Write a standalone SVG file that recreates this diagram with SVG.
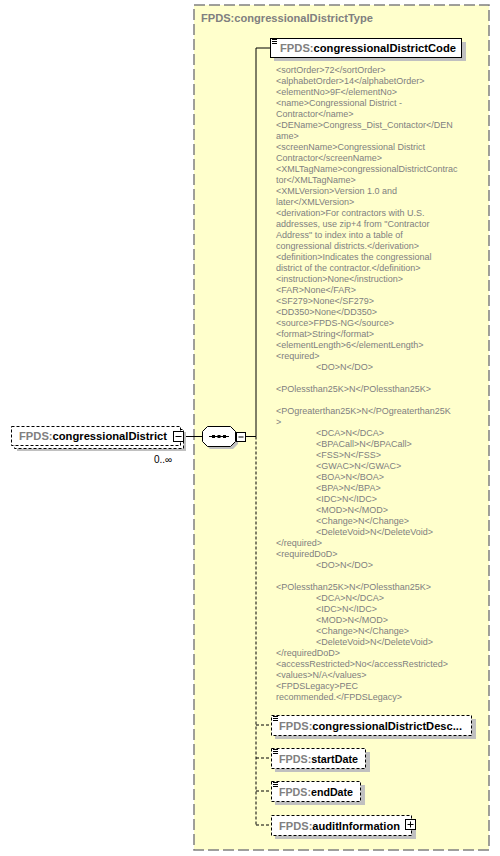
<svg xmlns="http://www.w3.org/2000/svg" width="500" height="856" viewBox="0 0 500 856">
<style>
.lbl{font-family:"Liberation Sans",Arial,sans-serif;font-size:11px;font-weight:bold;fill:#000}
.pfx{fill:#808080}
.ann{font-family:"Liberation Sans",Arial,sans-serif;font-size:9px;fill:#808080}
.box{fill:#fff;stroke:#000;stroke-width:1}
.dbox{fill:#fff;stroke:#000;stroke-width:1;stroke-dasharray:3,2}
.shadow{fill:#c0c0c0}
.ln{stroke:#000;stroke-width:1;fill:none}
.dln{stroke:#000;stroke-width:1;fill:none;stroke-dasharray:3,2}
.icon{stroke:#000;stroke-width:1}
</style>
<defs>
<g id="doc"><rect x="0" y="0" width="7" height="6" fill="#fff"/><line class="icon" x1="1" y1="0.5" x2="6" y2="0.5"/><line class="icon" x1="1" y1="2.5" x2="6" y2="2.5"/><line class="icon" x1="1" y1="4.5" x2="6" y2="4.5"/></g>
</defs>
<g id="complexType">
<rect x="194" y="5" width="295" height="845" fill="#ffffcc" stroke="#808080" stroke-width="1.5" stroke-dasharray="11,4"/>
<text class="lbl pfx" x="201" y="22" textLength="172" lengthAdjust="spacingAndGlyphs">FPDS:congressionalDistrictType</text>
</g>
<g id="connectors">
<line class="ln" x1="184" y1="436.5" x2="202" y2="436.5"/>
<line class="ln" x1="245" y1="436.5" x2="256" y2="436.5"/>
<line class="ln" x1="256" y1="48" x2="256" y2="436.5"/>
<line class="ln" x1="256" y1="48" x2="270" y2="48"/>
<line class="dln" x1="256" y1="436.5" x2="256" y2="825"/>
<line class="dln" x1="256" y1="725" x2="271" y2="725"/>
<line class="dln" x1="256" y1="758" x2="271" y2="758"/>
<line class="dln" x1="256" y1="791" x2="271" y2="791"/>
<line class="dln" x1="256" y1="825" x2="271" y2="825"/>
</g>
<g id="congressionalDistrict">
<rect class="shadow" x="17" y="432" width="169" height="19"/>
<rect class="dbox" x="14.5" y="429.5" width="169" height="19"/>
<rect class="dbox" x="11.5" y="426.5" width="169" height="19"/>
<text class="lbl" x="19" y="440" textLength="148" lengthAdjust="spacingAndGlyphs"><tspan class="pfx">FPDS:</tspan>congressionalDistrict</text>
<rect class="box" x="173.5" y="431.5" width="10" height="10"/>
<line class="ln" x1="175.5" y1="436.5" x2="181.5" y2="436.5"/>
<text x="154" y="463" font-family="'Liberation Sans',Arial,sans-serif" font-size="10" fill="#000">0..∞</text>
</g>
<g id="sequence">
<polygon class="shadow" points="210,429 233,429 238,434 238,444 233,449 210,449 205,444 205,434"/>
<polygon points="207.5,426.5 230.5,426.5 235.5,431.5 235.5,441.5 230.5,446.5 207.5,446.5 202.5,441.5 202.5,431.5" fill="#fff" stroke="#000"/>
<line class="ln" x1="209" y1="436.5" x2="229" y2="436.5"/>
<rect x="212" y="435" width="3" height="3" fill="#000"/>
<rect x="217.5" y="435" width="3" height="3" fill="#000"/>
<rect x="223" y="435" width="3" height="3" fill="#000"/>
<rect class="box" x="236.5" y="432.5" width="9" height="9"/>
<line class="ln" x1="238.5" y1="437" x2="243.5" y2="437"/>
</g>
<g id="congressionalDistrictCode">
<rect class="shadow" x="274" y="42" width="192" height="19"/>
<rect class="box" x="270.5" y="38.5" width="191" height="19"/>
<use href="#doc" x="271" y="39"/>
<text class="lbl" x="280" y="52" textLength="176" lengthAdjust="spacingAndGlyphs"><tspan class="pfx">FPDS:</tspan>congressionalDistrictCode</text>
<text class="ann">
<tspan x="276" y="72.5">&lt;sortOrder&gt;72&lt;/sortOrder&gt;</tspan>
<tspan x="276" y="83.5">&lt;alphabetOrder&gt;14&lt;/alphabetOrder&gt;</tspan>
<tspan x="276" y="94.5">&lt;elementNo&gt;9F&lt;/elementNo&gt;</tspan>
<tspan x="276" y="105.5">&lt;name&gt;Congressional District -</tspan>
<tspan x="276" y="116.5">Contractor&lt;/name&gt;</tspan>
<tspan x="276" y="127.5">&lt;DEName&gt;Congress_Dist_Contactor&lt;/DEN</tspan>
<tspan x="276" y="138.5">ame&gt;</tspan>
<tspan x="276" y="149.5">&lt;screenName&gt;Congressional District</tspan>
<tspan x="276" y="160.5">Contractor&lt;/screenName&gt;</tspan>
<tspan x="276" y="171.5">&lt;XMLTagName&gt;congressionalDistrictContrac</tspan>
<tspan x="276" y="182.5">tor&lt;/XMLTagName&gt;</tspan>
<tspan x="276" y="193.5">&lt;XMLVersion&gt;Version 1.0 and</tspan>
<tspan x="276" y="204.5">later&lt;/XMLVersion&gt;</tspan>
<tspan x="276" y="215.5">&lt;derivation&gt;For contractors with U.S.</tspan>
<tspan x="276" y="226.5">addresses, use zip+4 from "Contractor</tspan>
<tspan x="276" y="237.5">Address" to index into a table of</tspan>
<tspan x="276" y="248.5">congressional districts.&lt;/derivation&gt;</tspan>
<tspan x="276" y="259.5">&lt;definition&gt;Indicates the congressional</tspan>
<tspan x="276" y="270.5">district of the contractor.&lt;/definition&gt;</tspan>
<tspan x="276" y="281.5">&lt;instruction&gt;None&lt;/instruction&gt;</tspan>
<tspan x="276" y="292.5">&lt;FAR&gt;None&lt;/FAR&gt;</tspan>
<tspan x="276" y="303.5">&lt;SF279&gt;None&lt;/SF279&gt;</tspan>
<tspan x="276" y="314.5">&lt;DD350&gt;None&lt;/DD350&gt;</tspan>
<tspan x="276" y="325.5">&lt;source&gt;FPDS-NG&lt;/source&gt;</tspan>
<tspan x="276" y="336.5">&lt;format&gt;String&lt;/format&gt;</tspan>
<tspan x="276" y="347.5">&lt;elementLength&gt;6&lt;/elementLength&gt;</tspan>
<tspan x="276" y="358.5">&lt;required&gt;</tspan>
<tspan x="316" y="369.5">&lt;DO&gt;N&lt;/DO&gt;</tspan>
<tspan x="276" y="391.5">&lt;POlessthan25K&gt;N&lt;/POlessthan25K&gt;</tspan>
<tspan x="276" y="413.5">&lt;POgreaterthan25K&gt;N&lt;/POgreaterthan25K</tspan>
<tspan x="276" y="424.5">&gt;</tspan>
<tspan x="316" y="435.5">&lt;DCA&gt;N&lt;/DCA&gt;</tspan>
<tspan x="316" y="446.5">&lt;BPACall&gt;N&lt;/BPACall&gt;</tspan>
<tspan x="316" y="457.5">&lt;FSS&gt;N&lt;/FSS&gt;</tspan>
<tspan x="316" y="468.5">&lt;GWAC&gt;N&lt;/GWAC&gt;</tspan>
<tspan x="316" y="479.5">&lt;BOA&gt;N&lt;/BOA&gt;</tspan>
<tspan x="316" y="490.5">&lt;BPA&gt;N&lt;/BPA&gt;</tspan>
<tspan x="316" y="501.5">&lt;IDC&gt;N&lt;/IDC&gt;</tspan>
<tspan x="316" y="512.5">&lt;MOD&gt;N&lt;/MOD&gt;</tspan>
<tspan x="316" y="523.5">&lt;Change&gt;N&lt;/Change&gt;</tspan>
<tspan x="316" y="534.5">&lt;DeleteVoid&gt;N&lt;/DeleteVoid&gt;</tspan>
<tspan x="276" y="545.5">&lt;/required&gt;</tspan>
<tspan x="276" y="556.5">&lt;requiredDoD&gt;</tspan>
<tspan x="316" y="567.5">&lt;DO&gt;N&lt;/DO&gt;</tspan>
<tspan x="276" y="589.5">&lt;POlessthan25K&gt;N&lt;/POlessthan25K&gt;</tspan>
<tspan x="316" y="600.5">&lt;DCA&gt;N&lt;/DCA&gt;</tspan>
<tspan x="316" y="611.5">&lt;IDC&gt;N&lt;/IDC&gt;</tspan>
<tspan x="316" y="622.5">&lt;MOD&gt;N&lt;/MOD&gt;</tspan>
<tspan x="316" y="633.5">&lt;Change&gt;N&lt;/Change&gt;</tspan>
<tspan x="316" y="644.5">&lt;DeleteVoid&gt;N&lt;/DeleteVoid&gt;</tspan>
<tspan x="276" y="655.5">&lt;/requiredDoD&gt;</tspan>
<tspan x="276" y="666.5">&lt;accessRestricted&gt;No&lt;/accessRestricted&gt;</tspan>
<tspan x="276" y="677.5">&lt;values&gt;N/A&lt;/values&gt;</tspan>
<tspan x="276" y="688.5">&lt;FPDSLegacy&gt;PEC</tspan>
<tspan x="276" y="699.5">recommended.&lt;/FPDSLegacy&gt;</tspan>
</text>
</g>
<g id="congressionalDistrictDescription">
<rect class="shadow" x="275" y="719" width="201" height="20"/>
<rect class="dbox" x="271.5" y="715.5" width="200" height="20"/>
<use href="#doc" x="272" y="716"/>
<text class="lbl" x="279" y="730" textLength="183" lengthAdjust="spacingAndGlyphs"><tspan class="pfx">FPDS:</tspan>congressionalDistrictDesc...</text>
</g>
<g id="startDate">
<rect class="shadow" x="275" y="752" width="95" height="20"/>
<rect class="dbox" x="271.5" y="748.5" width="94" height="20"/>
<use href="#doc" x="272" y="749"/>
<text class="lbl" x="279" y="763" textLength="79" lengthAdjust="spacingAndGlyphs"><tspan class="pfx">FPDS:</tspan>startDate</text>
</g>
<g id="endDate">
<rect class="shadow" x="275" y="785" width="90" height="20"/>
<rect class="dbox" x="271.5" y="781.5" width="89" height="20"/>
<use href="#doc" x="272" y="782"/>
<text class="lbl" x="279" y="796" textLength="74" lengthAdjust="spacingAndGlyphs"><tspan class="pfx">FPDS:</tspan>endDate</text>
</g>
<g id="auditInformation">
<rect class="shadow" x="275" y="819" width="141" height="20"/>
<rect class="dbox" x="271.5" y="815.5" width="140" height="20"/>
<text class="lbl" x="279" y="830" textLength="121" lengthAdjust="spacingAndGlyphs"><tspan class="pfx">FPDS:</tspan>auditInformation</text>
<rect class="box" x="405.5" y="819.5" width="10" height="10"/>
<line class="ln" x1="407.5" y1="824.5" x2="413.5" y2="824.5"/>
<line class="ln" x1="410.5" y1="821.5" x2="410.5" y2="827.5"/>
</g>
</svg>
